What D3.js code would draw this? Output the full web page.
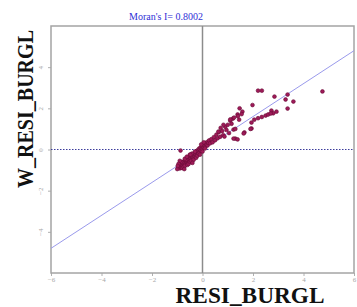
<!DOCTYPE html>
<html>
<head>
<meta charset="utf-8">
<script src="https://cdn.jsdelivr.net/npm/d3@7"></script>
<style>
  body { margin: 0; background: #fff; }
  svg { display: block; }
</style>
</head>
<body>
<svg id="chart" width="357" height="307"></svg>
<script>
// Moran scatter: residual vs spatially lagged residual
var moranI = 0.8002;
var xTicks = [-6, -4, -2, 0, 2, 4, 6];
var yTicks = [-4, -2, 0, 2, 4];

var resiBurgl = [
  -0.95, -0.92, -0.90, -0.88, -0.86, -0.84, -0.82, -0.80, -0.78, -0.76,
  -0.74, -0.72, -0.70, -0.68, -0.66, -0.64, -0.62, -0.60, -0.58, -0.56,
  -0.55, -0.53, -0.50, -0.48, -0.46, -0.44, -0.42, -0.40, -0.38, -0.36,
  -0.34, -0.32, -0.30, -0.28, -0.26, -0.24, -0.22, -0.20, -0.18, -0.16,
  -0.14, -0.12, -0.10, -0.08, -0.06, -0.04, -0.02, 0.00, 0.02, 0.04,
  0.06, 0.08, 0.10, 0.12, 0.15, 0.18, 0.20, 0.23, 0.26, 0.30,
  -0.85, -0.80, -0.75, -0.70, -0.65, -0.60, -0.55, -0.50, -0.45, -0.42,
  -0.35, -0.30, -0.25, -0.20, -0.15, -0.10, -0.05, 0.00, 0.05, 0.10,
  -0.90, -0.95, -0.70, -0.50, -0.62, -0.87, -0.48, 0.35, 0.40, 0.45,
  0.50, 0.55, 0.60, 0.65, 0.70, 0.72, 0.78, 0.82, 0.87, 0.90,
  0.95, 1.00, 1.05, 1.10, 1.15, 1.20, 1.23, 1.30, 1.39, 1.39,
  1.45, 1.47, 1.58, 1.66, 1.94, 1.94, 1.98, 2.20, 2.35, 2.05,
  2.20, 2.35, 2.50, 2.60, 2.73, 2.80, 2.93, 2.85, 3.29, 3.37,
  3.60, 3.37, 4.75, 1.63, 1.90, 1.30, 0.83, 0.63, 1.23, 1.10,
  1.25, 1.40, 1.55, 2.70, -1.00, -0.98, -0.72, -0.40
];
var wResiBurgl = [
  -0.85, -0.78, -0.92, -0.70, -0.82, -0.88, -0.74, -0.62, -0.80, -0.68,
  -0.58, -0.76, -0.64, -0.52, -0.70, -0.60, -0.48, -0.66, -0.55, -0.42,
  -0.62, -0.50, -0.38, -0.56, -0.44, -0.30, -0.50, -0.36, -0.24, -0.42,
  -0.30, -0.18, -0.36, -0.22, -0.10, -0.30, -0.16, -0.04, -0.22, -0.08,
  0.04, -0.14, 0.00, 0.10, -0.06, 0.06, 0.16, 0.02, 0.12, 0.24,
  0.08, 0.20, 0.30, 0.14, 0.26, 0.36, 0.20, 0.32, 0.44, 0.30,
  -0.60, -0.90, -0.85, -0.80, -0.50, -0.75, -0.70, -0.60, -0.55, -0.20,
  -0.50, -0.10, -0.40, -0.30, -0.20, -0.25, 0.25, -0.10, 0.35, 0.05,
  -0.55, -0.70, -0.45, -0.25, -0.35, -0.05, -0.25, 0.50, 0.35, 0.60,
  0.45, 0.72, 0.55, 0.85, 0.62, 1.05, 0.90, 0.70, 0.63, 1.10,
  0.95, 1.20, 0.80, 1.40, 1.25, 1.50, 0.97, 0.53, 0.49, 1.70,
  1.45, 2.00, 1.84, 0.83, 1.02, 1.31, 2.16, 2.86, 2.86, 1.45,
  1.52, 1.58, 1.65, 1.70, 1.89, 1.76, 1.84, 2.57, 2.43, 2.67,
  2.33, 1.99, 2.82, 0.78, 1.00, 1.00, 1.20, 0.87, 0.53, 1.46,
  1.55, 1.62, 1.72, 1.75, -0.95, -0.80, -0.95, -0.65
];

var plotL = 51, plotR = 354, plotT = 26, plotB = 273;
var svg = d3.select("#chart");

var x = d3.scaleLinear().domain([-6, 6]).range([plotL, plotR]);
var y = d3.scaleLinear().domain([-6, 6]).range([plotB, plotT]);

// title
svg.append("text")
    .attr("x", 166).attr("y", 20)
    .attr("text-anchor", "middle")
    .attr("font-family", "Liberation Serif, Times New Roman, serif")
    .attr("font-size", 10)
    .attr("fill", "#2f2fd6")
    .text("Moran's I= " + moranI.toFixed(4));

// axes
var xAxis = svg.append("g")
    .attr("transform", "translate(0," + plotB + ")")
    .call(d3.axisBottom(x).tickValues(xTicks).tickSize(3).tickPadding(1));
var yAxis = svg.append("g")
    .attr("transform", "translate(" + plotL + ",0)")
    .call(d3.axisLeft(y).tickValues(yTicks).tickSize(3));

[xAxis, yAxis].forEach(function(g) {
  g.select(".domain").remove();
  g.selectAll("line").attr("stroke", "#b0b0b0");
  g.selectAll("text")
      .attr("fill", "#a8a8a8")
      .attr("font-family", "Liberation Serif, serif")
      .attr("font-size", 7);
});
yAxis.selectAll("text")
    .attr("text-anchor", "middle")
    .attr("x", 0).attr("dy", 0)
    .attr("transform", "translate(-8,0) rotate(-90)");

// frame
svg.append("rect")
    .attr("x", plotL).attr("y", plotT)
    .attr("width", plotR - plotL).attr("height", plotB - plotT)
    .attr("fill", "none")
    .attr("stroke", "#a4a4a4")
    .attr("stroke-width", 1.5);

var clip = svg.append("clipPath").attr("id", "plot-clip");
clip.append("rect").attr("x", plotL).attr("y", plotT)
    .attr("width", plotR - plotL).attr("height", plotB - plotT);

var plot = svg.append("g").attr("clip-path", "url(#plot-clip)");

// zero lines
plot.append("line")
    .attr("x1", x(0)).attr("x2", x(0))
    .attr("y1", plotT).attr("y2", plotB)
    .attr("stroke", "#8c8c8c").attr("stroke-width", 1.5);
plot.append("line")
    .attr("x1", plotL).attr("x2", plotR)
    .attr("y1", y(0)).attr("y2", y(0))
    .attr("stroke", "#3c3c9c").attr("stroke-width", 1.1)
    .attr("stroke-dasharray", "1.5,1.5");

// regression line, slope = Moran's I
plot.append("line")
    .attr("x1", x(-6)).attr("y1", y(-6 * moranI))
    .attr("x2", x(6)).attr("y2", y(6 * moranI))
    .attr("stroke", "#9a9aec").attr("stroke-width", 1);

// points
plot.selectAll("circle")
    .data(d3.range(resiBurgl.length))
    .enter().append("circle")
    .attr("cx", function(i) { return x(resiBurgl[i]); })
    .attr("cy", function(i) { return y(wResiBurgl[i]); })
    .attr("r", 1.9)
    .attr("fill", "#9e1a58")
    .attr("stroke", "#6a0b38")
    .attr("stroke-width", 0.6);

// axis titles
svg.append("text")
    .attr("x", 250).attr("y", 303)
    .attr("text-anchor", "middle")
    .attr("font-family", "Liberation Serif, Times New Roman, serif")
    .attr("font-weight", "bold")
    .attr("font-size", 23)
    .attr("textLength", 149).attr("lengthAdjust", "spacingAndGlyphs")
    .attr("fill", "#111")
    .text("RESI_BURGL");

svg.append("text")
    .attr("transform", "translate(33,109) rotate(-90)")
    .attr("text-anchor", "middle")
    .attr("font-family", "Liberation Serif, Times New Roman, serif")
    .attr("font-weight", "bold")
    .attr("font-size", 23)
    .attr("textLength", 158).attr("lengthAdjust", "spacingAndGlyphs")
    .attr("fill", "#111")
    .text("W_RESI_BURGL");
</script>
</body>
</html>
